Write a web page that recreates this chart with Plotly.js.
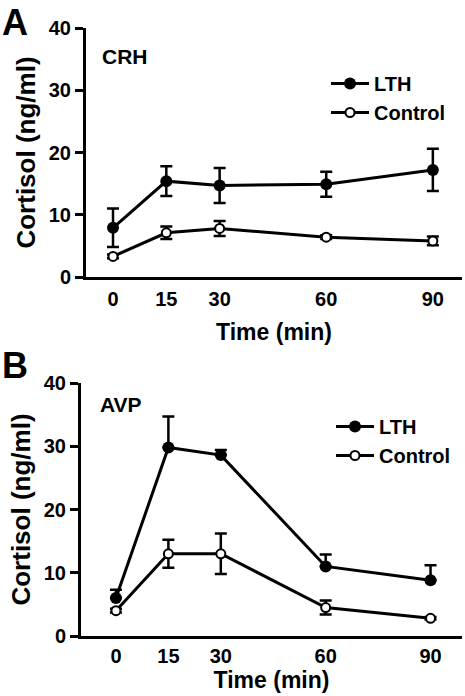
<!DOCTYPE html>
<html>
<head>
<meta charset="utf-8">
<script src="https://cdn.plot.ly/plotly-3.0.1.min.js"></script>
<style>html,body{margin:0;padding:0;background:#fff;}#chart{width:465px;height:696px;}</style>
</head>
<body>
<div id="chart"></div>
<script>
// ---- data ----
const timeMin = [0, 15, 30, 60, 90];
const tickLabels = ['0', '15', '30', '60', '90'];
const yTicks = [0, 10, 20, 30, 40];

// Panel A: CRH
const crhLTH = [7.9, 15.4, 14.7, 14.9, 17.2];
const crhLTHErr = [3.1, 2.4, 2.8, 2.0, 3.4];
const crhControl = [3.3, 7.1, 7.8, 6.4, 5.8];
const crhControlErr = [0.3, 1.0, 1.2, 0.3, 0.7];

// Panel B: AVP
const avpLTH = [6.0, 29.8, 28.6, 11.0, 8.8];
const avpLTHErr = [1.3, 4.9, 0.8, 1.9, 2.4];
const avpControl = [4.0, 13.0, 13.0, 4.5, 2.8];
const avpControlErr = [0.3, 2.2, 3.2, 1.1, 0.2];

const FONT = 'Liberation Sans, Arial, sans-serif';

function lthTrace(y, err, xa, ya, leg, oneSided) {
  return {
    x: timeMin, y: y, type: 'scatter', mode: 'lines+markers', name: 'LTH',
    xaxis: xa, yaxis: ya, legend: leg, legendgroup: leg + '_lth',
    line: {color: '#000', width: 3},
    marker: {symbol: 'circle', size: 12, color: '#000', line: {color: '#000', width: 0}},
    error_y: {type: 'data', array: err, arrayminus: oneSided ? err.map(() => 0) : err,
              symmetric: false, color: '#000', thickness: 2.5, width: 6},
    cliponaxis: false
  };
}
function ctlTrace(y, err, xa, ya, leg) {
  return {
    x: timeMin, y: y, type: 'scatter', mode: 'lines+markers', name: 'Control',
    xaxis: xa, yaxis: ya, legend: leg, legendgroup: leg + '_ctl',
    line: {color: '#000', width: 3},
    marker: {symbol: 'circle', size: 9, color: '#fff', line: {color: '#000', width: 2}},
    error_y: {type: 'data', array: err, color: '#000', thickness: 2.5, width: 6},
    cliponaxis: false
  };
}

const data = [
  lthTrace(crhLTH, crhLTHErr, 'x', 'y', 'legend', false),
  ctlTrace(crhControl, crhControlErr, 'x', 'y', 'legend'),
  lthTrace(avpLTH, avpLTHErr, 'x2', 'y2', 'legend2', true),
  ctlTrace(avpControl, avpControlErr, 'x2', 'y2', 'legend2')
];

function xAxis(domain, range, anchor, standoff, labelStandoff) {
  return {
    domain: domain, range: range, anchor: anchor,
    tickmode: 'array', tickvals: timeMin, ticktext: tickLabels,
    ticks: '', showgrid: false, zeroline: false,
    showline: true, linecolor: '#000', linewidth: 3,
    ticklabelstandoff: labelStandoff,
    tickfont: {family: FONT, size: 20, color: '#000', weight: 'bold'},
    title: {text: 'Time (min)', font: {family: FONT, size: 23, color: '#000', weight: 'bold'}, standoff: standoff}
  };
}
function yAxis(domain, anchor) {
  return {
    domain: domain, range: [0, 40], anchor: anchor,
    tickmode: 'array', tickvals: yTicks,
    ticks: 'outside', ticklen: 8, tickwidth: 3, tickcolor: '#000',
    showgrid: false, zeroline: false,
    showline: true, linecolor: '#000', linewidth: 3,
    tickfont: {family: FONT, size: 20, color: '#000', weight: 'bold'},
    title: {text: 'Cortisol (ng/ml)', font: {family: FONT, size: 26, color: '#000', weight: 'bold'}, standoff: 6}
  };
}

const legendBase = {
  font: {family: FONT, size: 20, color: '#000', weight: 'bold'},
  bgcolor: 'rgba(0,0,0,0)', borderwidth: 0,
  xanchor: 'left', yanchor: 'top', itemwidth: 38
};

const layout = {
  width: 465, height: 696,
  margin: {l: 0, r: 0, t: 0, b: 0},
  paper_bgcolor: '#fff', plot_bgcolor: '#fff',
  showlegend: true,
  xaxis: xAxis([86/465, 462/465], [-7.6, 98.2], 'y', 15, 2),
  yaxis: yAxis([1 - 277/696, 1 - 28/696], 'x'),
  xaxis2: xAxis([81/465, 462/465], [-10, 99], 'y2', 4, 0),
  yaxis2: yAxis([1 - 636/696, 1 - 383/696], 'x2'),
  legend: Object.assign({}, legendBase, {x: 326/465, y: 1 - 64/696, traceorder: 'grouped', tracegroupgap: 0}),
  legend2: Object.assign({}, legendBase, {x: 331/465, y: 1 - 407/696, traceorder: 'normal'}),
  annotations: [
    {text: 'A', xref: 'paper', yref: 'paper', x: 0, y: 1, xanchor: 'left', yanchor: 'top', showarrow: false,
     font: {family: FONT, size: 36, color: '#000', weight: 'bold'}},
    {text: 'B', xref: 'paper', yref: 'paper', x: 0, y: 1 - 343/696, xanchor: 'left', yanchor: 'top', showarrow: false,
     font: {family: FONT, size: 36, color: '#000', weight: 'bold'}},
    {text: 'CRH', xref: 'paper', yref: 'paper', x: 100/465, y: 1 - 56/696, xanchor: 'left', yanchor: 'middle', showarrow: false,
     font: {family: FONT, size: 21, color: '#000', weight: 'bold'}},
    {text: 'AVP', xref: 'paper', yref: 'paper', x: 98/465, y: 1 - 404/696, xanchor: 'left', yanchor: 'middle', showarrow: false,
     font: {family: FONT, size: 21, color: '#000', weight: 'bold'}}
  ]
};

Plotly.newPlot('chart', data, layout, {displayModeBar: false, staticPlot: true});
</script>
</body>
</html>
